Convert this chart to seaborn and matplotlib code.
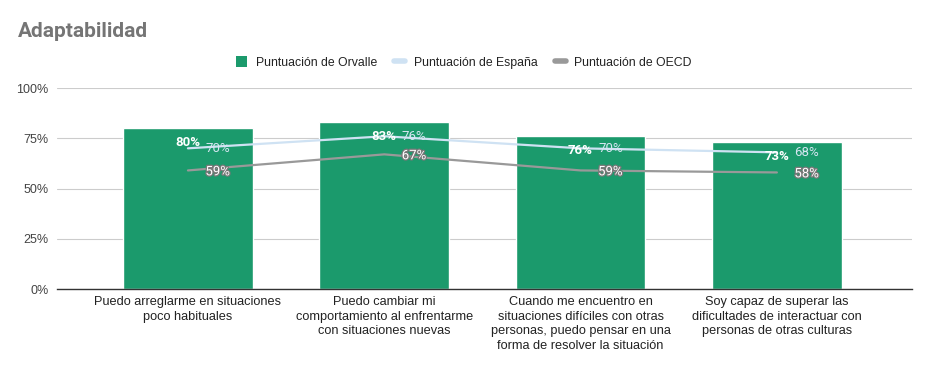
import numpy as np
import pandas as pd
import matplotlib
matplotlib.use("Agg")
import matplotlib.pyplot as plt
import matplotlib.patheffects as pe
from matplotlib.lines import Line2D
from matplotlib.patches import Patch
from matplotlib.ticker import PercentFormatter
import seaborn as sns

# data
categorias = [
    "Puedo arreglarme en situaciones\npoco habituales",
    "Puedo cambiar mi\ncomportamiento al enfrentarme\ncon situaciones nuevas",
    "Cuando me encuentro en\nsituaciones difíciles con otras\npersonas, puedo pensar en una\nforma de resolver la situación",
    "Soy capaz de superar las\ndificultades de interactuar con\npersonas de otras culturas",
]
orvalle = [0.80, 0.83, 0.76, 0.73]
espana = [0.70, 0.76, 0.70, 0.68]
oecd = [0.59, 0.67, 0.59, 0.58]

verde = "#1b9a6c"
azul = "#cfe2f3"
gris = "#999999"

sns.set_theme(style="white")
plt.rcParams["font.family"] = ["Roboto", "DejaVu Sans"]
arial = ["Liberation Sans", "DejaVu Sans"]

df = pd.DataFrame({"cat": categorias, "orvalle": orvalle,
                   "espana": espana, "oecd": oecd, "pos": np.arange(len(categorias))})

fig = plt.figure(figsize=(9.3, 3.71), dpi=100)
ax = fig.add_axes([0.0613, 0.221, 0.9193, 0.5417])

sns.barplot(data=df, x="pos", y="orvalle", color=verde, saturation=1,
            width=0.66, ax=ax, zorder=2)
sns.lineplot(data=df, x="pos", y="espana", color=azul, linewidth=1.6, ax=ax, zorder=3)
sns.lineplot(data=df, x="pos", y="oecd", color=gris, linewidth=1.6, ax=ax, zorder=3)

# data labels
for i, v in enumerate(orvalle):
    ax.annotate(f"{round(v*100)}%", (i, v), xytext=(0, -10), textcoords="offset points",
                ha="center", va="center", color="white", fontsize=9.5, fontweight="bold", zorder=5)
for i, v in enumerate(espana):
    ax.annotate(f"{round(v*100)}%", (i, v), xytext=(21.5, 0), textcoords="offset points",
                ha="center", va="center", color="#d6e6f2", fontsize=9.5, zorder=5)
for i, v in enumerate(oecd):
    ax.annotate(f"{round(v*100)}%", (i, v), xytext=(21.5, -1), textcoords="offset points",
                ha="center", va="center", color="white", fontsize=9.5, zorder=5,
                path_effects=[pe.withStroke(linewidth=1.8, foreground="#777777")])

ax.set_xlim(-0.667, 3.688)
ax.set_ylim(0, 1)
ax.set_yticks([0, 0.25, 0.5, 0.75, 1.0])
ax.yaxis.set_major_formatter(PercentFormatter(1.0, decimals=0))
ax.set_xticks(range(len(categorias)))
ax.set_xticklabels(categorias, fontsize=9.2, color="#222222", linespacing=1.3, family=arial)
for t in ax.get_yticklabels():
    t.set_family(arial)
ax.tick_params(axis="y", labelsize=9, labelcolor="#444444", length=0, pad=6)
ax.tick_params(axis="x", length=0, pad=5)
ax.set_xlabel("")
ax.set_ylabel("")
ax.grid(axis="y", color="#cccccc", linewidth=0.8, zorder=0)
ax.set_axisbelow(True)
for s in ["top", "right", "left"]:
    ax.spines[s].set_visible(False)
ax.spines["bottom"].set_color("#333333")
ax.spines["bottom"].set_linewidth(1)
ax.spines["bottom"].set_zorder(4)

fig.text(0.019, 0.915, "Adaptabilidad", fontsize=15, fontweight="bold",
         color="#757575", ha="left", va="center")

handles = [
    Patch(facecolor=verde, edgecolor="none"),
    Line2D([0], [0], color=azul, linewidth=4),
    Line2D([0], [0], color=gris, linewidth=4),
]
labels = ["Puntuación de Orvalle", "Puntuación de España", "Puntuación de OECD"]
fig.legend(handles, labels, loc="center", bbox_to_anchor=(0.499, 0.831), ncol=3,
           frameon=False, handlelength=0.9, handleheight=1.0,
           handletextpad=0.7, columnspacing=1.4, labelcolor="#222222",
           prop={"family": arial, "size": 8.8})

fig.savefig("out.png", dpi=100)
